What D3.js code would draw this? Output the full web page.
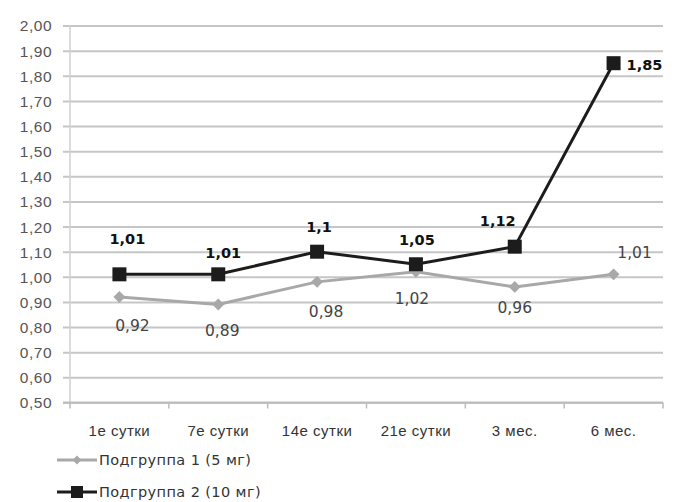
<!DOCTYPE html>
<html><head><meta charset="utf-8">
<script src="https://cdn.jsdelivr.net/npm/d3@7"></script>
<style>
html,body{margin:0;padding:0;background:#fff;}
svg{display:block;font-family:"DejaVu Sans",sans-serif;}
</style></head>
<body>
<svg id="chart" width="675" height="502"></svg>
<script>
const categories = ["1е сутки","7е сутки","14е сутки","21е сутки","3 мес.","6 мес."];
const series1Name = "Подгруппа 1 (5 мг)";
const series2Name = "Подгруппа 2 (10 мг)";
const series1 = [0.92, 0.89, 0.98, 1.02, 0.96, 1.01];
const series2 = [1.01, 1.01, 1.10, 1.05, 1.12, 1.85];
const series1Labels = ["0,92","0,89","0,98","1,02","0,96","1,01"];
const series2Labels = ["1,01","1,01","1,1","1,05","1,12","1,85"];
const yTicks = [0.5,0.6,0.7,0.8,0.9,1.0,1.1,1.2,1.3,1.4,1.5,1.6,1.7,1.8,1.9,2.0];
// label offsets (pixel nudges, as placed in the original)
const s1Off = [[13,29],[4,26],[9,30],[-4,27],[0,21],[21,-22]];
const s2Off = [[8,-35],[5,-21],[2,-25],[1,-24],[-17,-26],[13,2]];

(function(){
const svg = d3.select("#chart");
const pl = 70, pr = 663, pt = 25.5, pb = 402.5;
const x = d3.scaleBand().domain(categories).range([pl, pr]);
const y = d3.scaleLinear().domain([0.5, 2.0]).range([pb, pt]);

// gridlines + y axis
const yAxis = d3.axisLeft(y).tickValues(yTicks)
  .tickFormat(d => d3.format(".2f")(d).replace(".", ","))
  .tickSizeInner(-(pr - pl)).tickSizeOuter(0).tickPadding(18);
const gy = svg.append("g").attr("transform", `translate(${pl},0)`).call(yAxis);
gy.select(".domain").remove();
gy.selectAll(".tick line").attr("x1", -7).attr("stroke", "#c6c6c6").attr("stroke-width", 2);
gy.selectAll(".tick text").attr("fill", "#555").style("font-size", "15.5px")
  .style("letter-spacing", "0.5px").attr("dy", "0.35em");
svg.append("line").attr("x1", pl).attr("x2", pl).attr("y1", pt).attr("y2", pb)
  .attr("stroke", "#d0d0d0").attr("stroke-width", 1.5);

// x axis
const xAxis = d3.axisBottom(x).tickSize(0).tickPadding(22);
const gx = svg.append("g").attr("transform", `translate(0,${pb})`).call(xAxis);
gx.select(".domain").attr("stroke", "#bdbdbd").attr("stroke-width", 2)
  .attr("d", `M${pl - 7},0H${pr}`);
gx.selectAll(".tick text").attr("fill", "#333").style("font-size", "15px")
  .style("letter-spacing", "0.5px").attr("dy", "0.35em").attr("y", 28);
const bounds = categories.map(c => x(c)).concat([pr]);
gx.selectAll(".bt").data(bounds).enter().append("line")
  .attr("x1", d => d).attr("x2", d => d).attr("y1", 0).attr("y2", 6)
  .attr("stroke", "#bdbdbd").attr("stroke-width", 1.5);

const cx = c => x(c) + x.bandwidth() / 2;
const line = d3.line().x((d, i) => cx(categories[i])).y(d => y(d));

// series 1
svg.append("path").datum(series1).attr("d", line).attr("fill", "none")
  .attr("stroke", "#a8a8a8").attr("stroke-width", 3);
const diamond = d3.symbol().type(d3.symbolDiamond2).size(90);
svg.selectAll(".m1").data(series1).enter().append("path")
  .attr("d", diamond).attr("fill", "#a8a8a8")
  .attr("transform", (d, i) => `translate(${cx(categories[i])},${y(d)})`);

// series 2
svg.append("path").datum(series2).attr("d", line).attr("fill", "none")
  .attr("stroke", "#1c1c1c").attr("stroke-width", 3);
svg.selectAll(".m2").data(series2).enter().append("rect")
  .attr("x", (d, i) => cx(categories[i]) - 7).attr("y", d => y(d) - 7)
  .attr("width", 14).attr("height", 14).attr("fill", "#1c1c1c");

// labels series 1
svg.selectAll(".l1").data(series1).enter().append("text")
  .attr("x", (d, i) => cx(categories[i]) + s1Off[i][0])
  .attr("y", (d, i) => y(d) + s1Off[i][1])
  .attr("dy", "0.35em").attr("text-anchor", "middle")
  .attr("fill", "#444").style("font-size", "15.5px")
  .text((d, i) => series1Labels[i]);

// labels series 2
svg.selectAll(".l2").data(series2).enter().append("text")
  .attr("x", (d, i) => cx(categories[i]) + s2Off[i][0])
  .attr("y", (d, i) => y(d) + s2Off[i][1])
  .attr("dy", "0.35em").attr("text-anchor", (d, i) => i === series2.length - 1 ? "start" : "middle")
  .attr("fill", "#111").style("font-size", "14.5px").style("font-weight", "bold")
  .text((d, i) => series2Labels[i]);

// legend
const legend = [
  {name: series1Name, color: "#a8a8a8", type: "diamond", ly: 460},
  {name: series2Name, color: "#1c1c1c", type: "square", ly: 492}
];
legend.forEach(l => {
  svg.append("line").attr("x1", 57).attr("x2", 97).attr("y1", l.ly).attr("y2", l.ly)
    .attr("stroke", l.color).attr("stroke-width", 3);
  if (l.type === "diamond") {
    svg.append("path").attr("d", d3.symbol().type(d3.symbolDiamond2).size(50))
      .attr("fill", l.color).attr("transform", `translate(77,${l.ly})`);
  } else {
    svg.append("rect").attr("x", 71).attr("y", l.ly - 6).attr("width", 12).attr("height", 12).attr("fill", l.color);
  }
  svg.append("text").attr("x", 99).attr("y", l.ly).attr("dy", "0.35em")
    .attr("fill", "#333").style("font-size", "14.5px").style("letter-spacing", "0.4px").text(l.name);
});
})();
</script>
</body></html>
